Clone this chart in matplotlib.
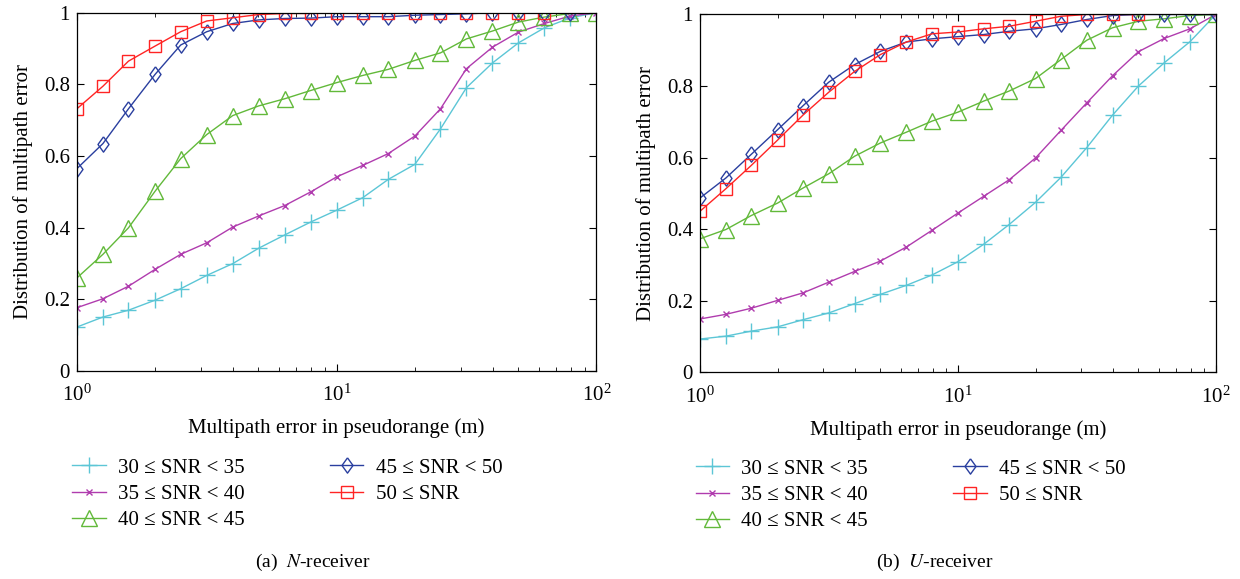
import numpy as np
import matplotlib
matplotlib.use("Agg")
import matplotlib.pyplot as plt
from matplotlib.ticker import LogLocator, NullFormatter

plt.rcParams.update({
    "font.family": ["Liberation Serif", "DejaVu Serif"],
    "mathtext.fontset": "stix",
    "font.size": 15,
    "xtick.direction": "in",
    "ytick.direction": "in",
    "xtick.top": True,
    "ytick.right": True,
})

# ── Data ──────────────────────────────────────────────────────────────────────
x_err = [1.0, 1.26, 1.58, 2.0, 2.51, 3.16, 3.98, 5.01, 6.31, 7.94, 10.0,
         12.6, 15.8, 20.0, 25.1, 31.6, 39.8, 50.1, 63.1, 79.4, 100.0]

labels = ["30 ≤ SNR < 35", "35 ≤ SNR < 40", "40 ≤ SNR < 45",
          "45 ≤ SNR < 50", "50 ≤ SNR"]

# (a) N-receiver
n_snr30 = [0.123, 0.151, 0.170, 0.198, 0.230, 0.267, 0.300, 0.343, 0.380, 0.416, 0.449,
           0.484, 0.535, 0.577, 0.676, 0.791, 0.860, 0.916, 0.958, 0.986, 1.0]
n_snr35 = [0.177, 0.202, 0.237, 0.284, 0.326, 0.358, 0.402, 0.433, 0.462, 0.500, 0.542,
           0.574, 0.607, 0.656, 0.732, 0.844, 0.904, 0.946, 0.970, 0.991, 1.0]
n_snr40 = [0.260, 0.326, 0.400, 0.502, 0.593, 0.660, 0.713, 0.740, 0.760, 0.783, 0.805,
           0.825, 0.842, 0.867, 0.888, 0.927, 0.949, 0.974, 0.988, 0.998, 1.0]
n_snr45 = [0.565, 0.635, 0.732, 0.828, 0.910, 0.947, 0.970, 0.980, 0.984, 0.985, 0.989,
           0.989, 0.989, 0.993, 0.995, 0.997, 1.0, 1.0, 1.0, 1.0]
n_snr50 = [0.732, 0.795, 0.865, 0.907, 0.947, 0.977, 0.986, 0.995, 0.998, 0.998, 1.0,
           1.0, 1.0, 1.0, 1.0, 1.0, 1.0, 1.0, 1.0]

# (b) U-receiver
u_snr30 = [0.093, 0.101, 0.115, 0.127, 0.147, 0.166, 0.192, 0.218, 0.243, 0.272, 0.309,
           0.358, 0.413, 0.475, 0.545, 0.628, 0.719, 0.800, 0.865, 0.924, 1.0]
u_snr35 = [0.149, 0.162, 0.179, 0.201, 0.222, 0.252, 0.282, 0.311, 0.350, 0.397, 0.445,
           0.492, 0.538, 0.599, 0.676, 0.753, 0.829, 0.896, 0.933, 0.960, 1.0]
u_snr40 = [0.373, 0.399, 0.438, 0.473, 0.515, 0.555, 0.604, 0.641, 0.671, 0.702, 0.727,
           0.758, 0.786, 0.821, 0.874, 0.928, 0.963, 0.981, 0.988, 0.997, 1.0]
u_snr45 = [0.487, 0.543, 0.609, 0.678, 0.745, 0.811, 0.860, 0.897, 0.923, 0.932, 0.938,
           0.944, 0.953, 0.960, 0.972, 0.986, 0.997, 1.0, 1.0, 1.0, 1.0]
u_snr50 = [0.450, 0.513, 0.578, 0.649, 0.719, 0.783, 0.841, 0.888, 0.923, 0.946, 0.951,
           0.960, 0.967, 0.981, 0.995, 1.0, 1.0, 1.0]

# ── Styles ────────────────────────────────────────────────────────────────────
DIAMOND = [(0, 1), (0.72, 0), (0, -1), (-0.72, 0), (0, 1)]
STYLES = [
    dict(color="#5cc6d6", marker="+", markersize=11, markeredgewidth=1.0),
    dict(color="#b03cae", marker="x", markersize=4, markeredgewidth=1.0),
    dict(color="#62b93a", marker="^", markersize=11, markerfacecolor="none", markeredgewidth=1.0),
    dict(color="#2a3f9f", marker=DIAMOND, markersize=11, markerfacecolor="none", markeredgewidth=1.0),
    dict(color="#ff2424", marker="s", markersize=9, markerfacecolor="none", markeredgewidth=1.0),
]

fig = plt.figure(figsize=(12.4, 5.79), dpi=100)
ax_a = fig.add_axes([0.062, 0.359, 0.419, 0.619])
ax_b = fig.add_axes([0.5645, 0.357, 0.416, 0.618])

panels = [
    (ax_a, [n_snr30, n_snr35, n_snr40, n_snr45, n_snr50], "(a)  $\\it{N}$-receiver", 0.252),
    (ax_b, [u_snr30, u_snr35, u_snr40, u_snr45, u_snr50], "(b)  $\\it{U}$-receiver", 0.754),
]

for ax, series, caption, cx in panels:
    for ys, lab, st in zip(series, labels, STYLES):
        ax.plot(x_err[:len(ys)], ys, linewidth=1.0, label=lab, **st)
    ax.set_xscale("log")
    ax.set_xlim(1, 100)
    ax.set_ylim(0, 1)
    ax.set_yticks([0, 0.2, 0.4, 0.6, 0.8, 1])
    ax.set_yticklabels(["0", "0.2", "0.4", "0.6", "0.8", "1"])
    ax.xaxis.set_minor_locator(LogLocator(base=10, subs=np.arange(2, 10)))
    ax.xaxis.set_minor_formatter(NullFormatter())
    ax.tick_params(which="major", length=5, width=0.8, labelsize=15)
    ax.tick_params(axis="y", which="major", pad=5)
    ax.tick_params(axis="x", which="major", pad=10)
    ax.tick_params(which="minor", length=3, width=0.6)
    for sp in ax.spines.values():
        sp.set_linewidth(0.9)
    ax.set_xlabel("Multipath error in pseudorange (m)", fontsize=15, labelpad=9)
    ax.set_ylabel("Distribution of multipath error", fontsize=15, labelpad=8)
    ax.legend(loc="upper left", bbox_to_anchor=(-0.045, -0.19), ncol=2, frameon=False,
              fontsize=15, handlelength=1.6, columnspacing=4.1, labelspacing=0.32,
              handletextpad=0.6, numpoints=1)
    fig.text(cx, 0.029, caption, ha="center", va="center", fontsize=14)

fig.savefig("out.png", dpi=100)
